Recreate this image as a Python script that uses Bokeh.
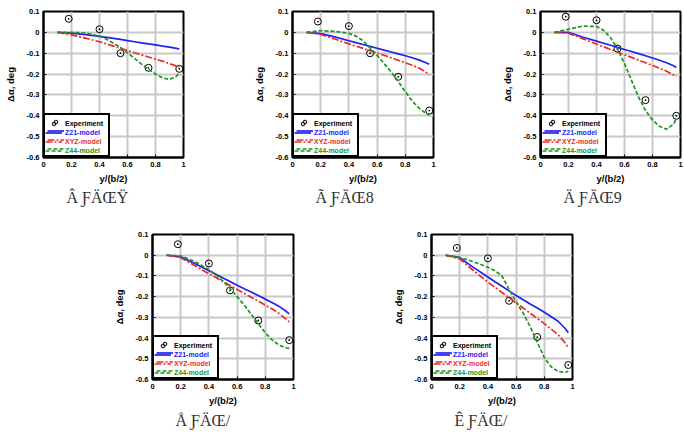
from bokeh.plotting import figure
from bokeh.layouts import row, column, Spacer
from bokeh.models import Range1d, FixedTicker, Legend, LegendItem, Title
from bokeh.embed import file_html
from bokeh.resources import INLINE

# ---- data ----
x_exp = [0.18, 0.40, 0.55, 0.75, 0.97]
x_mod = [0.10, 0.20, 0.30, 0.40, 0.45, 0.50, 0.55, 0.60, 0.65, 0.70, 0.75, 0.80, 0.85, 0.90, 0.95, 0.97]

exp1 = [0.065, 0.015, -0.10, -0.17, -0.175]
z21_1 = [0, -0.004, -0.011, -0.019, -0.024, -0.029, -0.034, -0.040, -0.045, -0.050, -0.055, -0.060, -0.066, -0.071, -0.077, -0.080]
xyz_1 = [0, -0.012, -0.028, -0.045, -0.055, -0.066, -0.077, -0.088, -0.098, -0.108, -0.118, -0.128, -0.138, -0.150, -0.162, -0.167]
z44_1 = [0, 0.0, -0.003, -0.018, -0.033, -0.052, -0.072, -0.098, -0.125, -0.152, -0.177, -0.200, -0.218, -0.226, -0.210, -0.195]

exp2 = [0.052, 0.030, -0.10, -0.213, -0.375]
z21_2 = [0, -0.006, -0.022, -0.040, -0.049, -0.058, -0.067, -0.076, -0.085, -0.094, -0.103, -0.112, -0.122, -0.133, -0.147, -0.153]
xyz_2 = [0, -0.010, -0.032, -0.055, -0.066, -0.077, -0.088, -0.099, -0.110, -0.122, -0.134, -0.146, -0.158, -0.172, -0.193, -0.203]
z44_2 = [0, 0.008, 0.005, -0.005, -0.018, -0.040, -0.075, -0.110, -0.150, -0.190, -0.235, -0.285, -0.330, -0.365, -0.390, -0.397]

exp3 = [0.075, 0.058, -0.078, -0.325, -0.40]
z21_3 = [0, 0.0, -0.022, -0.042, -0.052, -0.062, -0.072, -0.082, -0.092, -0.102, -0.112, -0.123, -0.134, -0.146, -0.160, -0.168]
xyz_3 = [0, -0.004, -0.030, -0.056, -0.069, -0.082, -0.094, -0.107, -0.120, -0.133, -0.146, -0.159, -0.172, -0.186, -0.204, -0.213]
z44_3 = [0, 0.015, 0.030, 0.028, 0.010, -0.025, -0.080, -0.150, -0.230, -0.310, -0.375, -0.420, -0.450, -0.465, -0.440, -0.415]

exp4 = [0.053, -0.040, -0.170, -0.315, -0.410]
z21_4 = [0, -0.008, -0.040, -0.075, -0.092, -0.110, -0.127, -0.145, -0.162, -0.178, -0.195, -0.212, -0.229, -0.248, -0.272, -0.283]
xyz_4 = [0, -0.012, -0.050, -0.090, -0.108, -0.127, -0.146, -0.165, -0.184, -0.203, -0.222, -0.241, -0.260, -0.282, -0.310, -0.322]
z44_4 = [0, -0.003, -0.030, -0.070, -0.095, -0.125, -0.160, -0.200, -0.240, -0.285, -0.330, -0.375, -0.410, -0.435, -0.448, -0.450]

exp5 = [0.035, -0.015, -0.220, -0.395, -0.530]
z21_5 = [0, -0.012, -0.060, -0.105, -0.128, -0.150, -0.172, -0.195, -0.215, -0.235, -0.255, -0.275, -0.297, -0.320, -0.355, -0.374]
xyz_5 = [0, -0.018, -0.075, -0.130, -0.155, -0.180, -0.205, -0.230, -0.255, -0.280, -0.305, -0.330, -0.357, -0.385, -0.425, -0.447]
z44_5 = [0, -0.010, -0.032, -0.058, -0.075, -0.100, -0.165, -0.225, -0.280, -0.345, -0.420, -0.495, -0.540, -0.562, -0.565, -0.560]

x_ticks = [0, 0.2, 0.4, 0.6, 0.8, 1.0]
x_tick_labels = ["0", "0.2", "0.4", "0.6", "0.8", "1"]
y_ticks = [0.1, 0.0, -0.1, -0.2, -0.3, -0.4, -0.5, -0.6]
y_tick_labels = ["0.1", "0", "-0.1", "-0.2", "-0.3", "-0.4", "-0.5", "-0.6"]

series_names = ["Experiment", "Z21-model", "XYZ-model", "Z44-model"]
captions = ["Â ƑÄŒŸ", "Ã ƑÄŒ8", "Ä ƑÄŒ9", "Å ƑÄŒ/", "Ê ƑÄŒ/"]

panels = [
    (exp1, z21_1, xyz_1, z44_1),
    (exp2, z21_2, xyz_2, z44_2),
    (exp3, z21_3, xyz_3, z44_3),
    (exp4, z21_4, xyz_4, z44_4),
    (exp5, z21_5, xyz_5, z44_5),
]

FONT = "Liberation Sans"
BLUE = "#2222f0"
RED = "#f02828"
GREEN = "#1f951f"


def make_panel(data, caption, fw, fh, bl, br, bt, bb, cap_standoff):
    exp, z21, xyz, z44 = data
    p = figure(output_backend="svg", toolbar_location=None,
               frame_width=fw, frame_height=fh,
               min_border_left=bl, min_border_right=br,
               min_border_top=bt, min_border_bottom=bb,
               x_range=Range1d(0, 1), y_range=Range1d(-0.6, 0.1))
    p.outline_line_color = "black"
    p.outline_line_width = 2
    p.outline_line_alpha = 1

    for ax in (p.xaxis[0], p.yaxis[0]):
        ax.major_tick_in = 3
        ax.major_tick_out = 0
        ax.minor_tick_line_color = None
        ax.axis_line_color = "black"
        ax.axis_line_width = 2
        ax.major_tick_line_color = "black"
        ax.major_tick_line_width = 1
        ax.major_label_text_font = FONT
        ax.major_label_text_font_style = "bold"
        ax.major_label_text_font_size = "7.5px"
        ax.major_label_text_color = "black"
        ax.axis_label_text_font = FONT
        ax.axis_label_text_font_style = "bold"
        ax.axis_label_text_color = "black"
    p.xaxis.ticker = FixedTicker(ticks=x_ticks)
    p.yaxis.ticker = FixedTicker(ticks=y_ticks)
    p.xaxis.major_label_overrides = dict(zip(x_ticks, x_tick_labels))
    p.yaxis.major_label_overrides = dict(zip(y_ticks, y_tick_labels))
    p.xaxis.axis_label = "y/(b/2)"
    p.yaxis.axis_label = "Δα, deg"
    p.xaxis.axis_label_text_font_size = "9.5px"
    p.yaxis.axis_label_text_font_size = "9.5px"
    p.xaxis.major_label_standoff = 4
    p.yaxis.major_label_standoff = 4
    p.xaxis.axis_label_standoff = 3
    p.yaxis.axis_label_standoff = 8

    p.grid.grid_line_color = "#c8c8c8"
    p.grid.grid_line_width = 2
    p.grid.grid_line_alpha = 1

    r_exp = p.scatter(x_exp, exp, marker="circle_dot", size=7, fill_color=None,
                      line_color="black", line_width=1)
    r_z21 = p.line(x_mod, z21, line_color=BLUE, line_width=1.7)
    r_xyz = p.line(x_mod, xyz, line_color=RED, line_width=1.7, line_dash="7 2 2 2")
    r_z44 = p.line(x_mod, z44, line_color=GREEN, line_width=1.7, line_dash="4 2")
    renderers = [r_exp, r_z21, r_xyz, r_z44]
    colors = ["black", BLUE, RED, GREEN]

    pad = 2
    ih = 9
    common = dict(glyph_width=17, glyph_height=ih, label_height=ih, label_standoff=3,
                  spacing=0, margin=0, label_text_font=FONT,
                  label_text_font_style="bold", label_text_font_size="7px")
    # framed box of the legend (blank labels, fixed label width)
    main = Legend(items=[LegendItem(label="\u00a0", renderers=[r]) for r in renderers],
                  location=(0, 0), padding=pad, border_line_color="black",
                  border_line_width=2, border_line_alpha=1, label_width=39,
                  background_fill_color="white",
                  background_fill_alpha=1, **common)
    p.add_layout(main, "center")
    # one entry per series, so that each label can carry the series colour
    for i, (n, r, c) in enumerate(zip(series_names, renderers, colors)):
        lg = Legend(items=[LegendItem(label=n, renderers=[r])],
                    location=(pad, pad + (3 - i) * ih), padding=0,
                    border_line_color=None, background_fill_alpha=0,
                    label_text_color=c, **common)
        p.add_layout(lg, "center")

    t = Title(text=caption, align="left", offset=23, text_font="Liberation Serif",
              text_font_size="16px", text_font_style="normal", text_color="#333333",
              standoff=cap_standoff)
    p.add_layout(t, "below")
    return p


f1 = make_panel(panels[0], captions[0], 140, 146, 43, 66, 11, 66, 0)
f2 = make_panel(panels[1], captions[1], 141, 146, 43, 64, 11, 66, 0)
f3 = make_panel(panels[2], captions[2], 140, 146, 43, 4, 11, 66, 0)
f4 = make_panel(panels[3], captions[3], 141, 145, 43, 95, 11, 59, 2)
f5 = make_panel(panels[4], captions[4], 141, 145, 43, 69, 11, 59, 2)

top = row(f1, f2, f3)
bottom = row(Spacer(width=109, height=215), f4, f5)
layout = column(top, bottom)

open("out.html", "w").write(file_html(layout, INLINE))
